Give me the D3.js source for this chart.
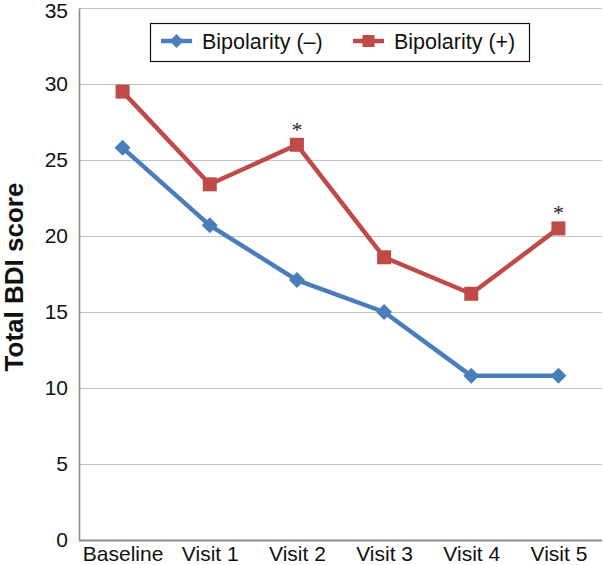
<!DOCTYPE html>
<html>
<head>
<meta charset="utf-8">
<script src="https://cdn.jsdelivr.net/npm/d3@7"></script>
<style>
  html, body { margin: 0; padding: 0; background: #fff; }
  svg { display: block; font-family: "Liberation Sans", Arial, sans-serif; }
</style>
</head>
<body>
<svg id="chart" width="603" height="565"></svg>
<script>
const categories = ["Baseline", "Visit 1", "Visit 2", "Visit 3", "Visit 4", "Visit 5"];
const bipolarNeg = [25.8, 20.7, 17.1, 15.0, 10.8, 10.8];
const bipolarPos = [29.5, 23.4, 26.0, 18.6, 16.2, 20.5];
const starred = ["Visit 2", "Visit 5"];
const yTicks = [0, 5, 10, 15, 20, 25, 30, 35];
const seriesNames = ["Bipolarity (\u2013)", "Bipolarity (+)"];

const svg = d3.select("#chart");
const pLeft = 79, pRight = 602, pTop = 8, pBottom = 540;

const x = d3.scalePoint().domain(categories).range([pLeft, pRight]).padding(0.5);
const y = d3.scaleLinear().domain([0, 35]).range([pBottom, pTop]);

// gridlines
svg.append("g").selectAll("line").data(yTicks.filter(d => d > 0)).join("line")
  .attr("x1", pLeft).attr("x2", pRight)
  .attr("y1", d => Math.round(y(d)) + 0.5).attr("y2", d => Math.round(y(d)) + 0.5)
  .attr("stroke", "#c4c4c4").attr("stroke-width", 1.2);

// y axis
const yAxis = svg.append("g").attr("transform", `translate(${pLeft},0)`)
  .call(d3.axisLeft(y).tickValues(yTicks).tickSize(0).tickPadding(11));
yAxis.select(".domain").attr("stroke", "#8c8c8c").attr("stroke-width", 1.6);
yAxis.selectAll("text").attr("font-size", 21).attr("fill", "#111")
  .attr("font-family", "Liberation Sans, Arial, sans-serif");
yAxis.selectAll(".tick").filter(d => d === 35).select("text").attr("dy", "0.45em");

// x axis
const xAxis = svg.append("g").attr("transform", `translate(0,${pBottom})`)
  .call(d3.axisBottom(x).tickSize(0).tickPadding(6));
xAxis.select(".domain").attr("d", `M${pLeft},0.5H${pRight}`).attr("stroke", "#8c8c8c").attr("stroke-width", 1.8);
xAxis.selectAll("text").attr("font-size", 21).attr("fill", "#111")
  .attr("font-family", "Liberation Sans, Arial, sans-serif");

// axis title
svg.append("text")
  .attr("transform", `translate(23,${(pTop + pBottom) / 2 + 3}) rotate(-90)`)
  .attr("text-anchor", "middle")
  .attr("font-size", 26).attr("font-weight", "bold").attr("fill", "#111")
  .text("Total BDI score");

const blue = "#4a7ebb", red = "#be4b48";
const line = d3.line().x((d, i) => x(categories[i])).y(d => y(d));

// lines
svg.append("path").datum(bipolarNeg).attr("d", line)
  .attr("fill", "none").attr("stroke", blue).attr("stroke-width", 4.5).attr("stroke-linejoin", "round");
svg.append("path").datum(bipolarPos).attr("d", line)
  .attr("fill", "none").attr("stroke", red).attr("stroke-width", 4.5).attr("stroke-linejoin", "round");

// markers
const diamond = s => `M0,${-s}L${s},0L0,${s}L${-s},0Z`;
svg.append("g").selectAll("path").data(bipolarNeg).join("path")
  .attr("transform", (d, i) => `translate(${x(categories[i])},${y(d)})`)
  .attr("d", diamond(8)).attr("fill", blue);
svg.append("g").selectAll("rect").data(bipolarPos).join("rect")
  .attr("x", (d, i) => x(categories[i]) - 7).attr("y", d => y(d) - 7)
  .attr("width", 14).attr("height", 14).attr("fill", red);

// significance stars
svg.append("g").selectAll("text").data(starred).join("text")
  .attr("x", d => x(d))
  .attr("y", d => y(bipolarPos[categories.indexOf(d)]) - 8)
  .attr("text-anchor", "middle")
  .attr("font-family", "Liberation Serif, Times New Roman, serif")
  .attr("font-size", 22).attr("fill", "#222")
  .text("*");

// legend
const lg = svg.append("g");
lg.append("rect").attr("x", 150.5).attr("y", 23.5).attr("width", 379).attr("height", 38)
  .attr("fill", "#fff").attr("stroke", "#111").attr("stroke-width", 1.2);
const legendItems = [
  { name: seriesNames[0], color: blue, type: "diamond", x0: 161 },
  { name: seriesNames[1], color: red, type: "square", x0: 353 }
];
legendItems.forEach(it => {
  lg.append("line").attr("x1", it.x0).attr("x2", it.x0 + 31).attr("y1", 41).attr("y2", 41)
    .attr("stroke", it.color).attr("stroke-width", 4.5);
  if (it.type === "diamond") {
    lg.append("path").attr("transform", `translate(${it.x0 + 15.5},41)`).attr("d", diamond(7)).attr("fill", it.color);
  } else {
    lg.append("rect").attr("x", it.x0 + 15.5 - 6).attr("y", 35).attr("width", 12).attr("height", 12).attr("fill", it.color);
  }
  lg.append("text").attr("x", it.x0 + 41).attr("y", 41).attr("dy", "0.35em")
    .attr("font-size", 21.5).attr("fill", "#111").text(it.name);
});
</script>
</body>
</html>
